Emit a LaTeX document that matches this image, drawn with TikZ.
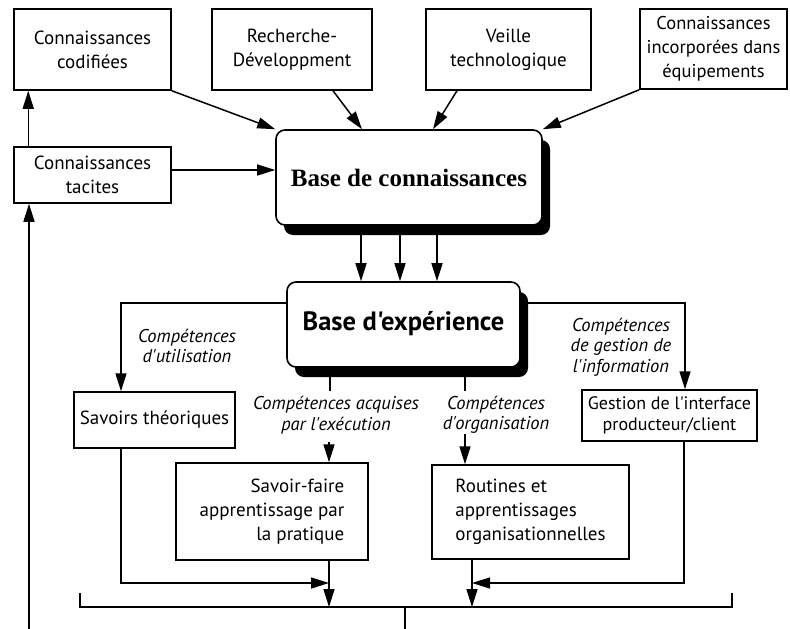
\documentclass[tikz,border=0pt]{standalone}
\usepackage{fontspec}
\setmainfont{PT Sans}[Ligatures=TeXOff]
\newfontfamily\titleserif{Liberation Serif}
\usetikzlibrary{arrows.meta,shadows}
\begin{document}
\begin{tikzpicture}[x=1pt,y=-1pt,
  line width=1.5pt,
  arr/.style={-{Triangle[length=18pt,width=11pt]}},
  box/.style={draw, fill=white, inner sep=0pt, align=center, font=\fontsize{19}{24}\selectfont},
  lab/.style={inner sep=0pt, align=center, font=\itshape\fontsize{18.5}{20.5}\selectfont},
  bigbox/.style={draw, fill=white, rounded corners=9pt, line width=1.6pt, inner sep=0pt,
     drop shadow={shadow xshift=8pt,shadow yshift=-10pt,fill=black,opacity=1}},
]
\useasboundingbox (0,0) rectangle (790,629);

\node[box, minimum width=157pt, minimum height=81pt] (codif) at (92.5,49.5) {Connaissances\\codifiées};
\node[box, minimum width=160pt, minimum height=81pt] (rd) at (292,49.5) {Recherche-\\Développment};
\node[box, minimum width=165pt, minimum height=81pt] (veille) at (508.5,49.5) {Veille\\technologique};
\node[box, minimum width=147pt, minimum height=80pt, font=\fontsize{18.5}{24}\selectfont] (equip) at (713.5,49) {Connaissances\\incorporées dans\\équipements};
\node[box, minimum width=157pt, minimum height=56pt] (tacit) at (92.5,175) {Connaissances\\tacites};
\node[bigbox, minimum width=266pt, minimum height=95pt, font=\titleserif\bfseries\fontsize{25}{28}\selectfont] (bc) at (409,177.5) {Base de connaissances};
\node[bigbox, minimum width=233pt, minimum height=85pt, font=\bfseries\fontsize{26.5}{30}\selectfont] (bx) at (403.5,324.5) {\raisebox{8pt}{Base d'expérience}};
\node[box, minimum width=161pt, minimum height=56pt] (sav) at (154.5,420) {Savoirs théoriques};
\node[box, minimum width=192pt, minimum height=97pt, align=right] (sf) at (272,511.5) {Savoir-faire\\apprentissage par\\la pratique};
\node[box, minimum width=197pt, minimum height=94pt, align=left] (rout) at (530.5,512) {Routines et\\apprentissages\\organisationnelles};
\node[box, minimum width=175pt, minimum height=51pt, font=\fontsize{18}{21}\selectfont] (gest) at (669.5,415.5) {Gestion de l'interface\\producteur/client};

\node[lab] (l1) at (187,346) {Compétences\\d'utilisation};
\node[lab] (l2) at (621,347) {Compétences\\de gestion de\\l'information};
\node[lab] (l3) at (336,415) {Compétences acquises\\par l'exécution};
\node[lab] (l4) at (496,415) {Compétences\\d'organisation};

% top inputs
\draw[arr] (codif.south east) -- (bc.north west);
\draw[arr] ([xshift=41pt]rd.south) -- ([xshift=-47pt]bc.north);
\draw[arr] ([xshift=-51.5pt]veille.south) -- ([xshift=24pt]bc.north);
\draw[arr] (equip.south west) -- (bc.north east);
\coordinate (t1) at ([yshift=5pt]tacit.east);
\draw[arr] (t1) -- (t1 -| bc.west);
\draw[arr] ([xshift=15pt]tacit.north west) -- ([xshift=15pt]codif.south west);
\coordinate (b1) at (29,629);
\draw[arr] (b1) -- (b1 |- tacit.south);

% base de connaissances -> base d'experience
\coordinate (k1) at (361,0);
\coordinate (k2) at (400,0);
\coordinate (k3) at (437,0);
\draw[arr] (bc.south -| k1) -- (bx.north -| k1);
\draw[arr] (bc.south -| k2) -- (bx.north -| k2);
\draw[arr] (bc.south -| k3) -- (bx.north -| k3);

% competences
\draw[arr] ([yshift=21.5pt]bx.west) -| ([xshift=-33.5pt]sav.north);
\draw[arr] ([yshift=21.5pt]bx.east) -| ([xshift=15.5pt]gest.north);
\draw ([xshift=-73.5pt]bx.south) -- ++(0,23);
\draw ([xshift=61.5pt]bx.south) -- ++(0,23);
\draw[arr] ([xshift=57pt,yshift=20pt]sf.north) -- ([xshift=57pt]sf.north);
\draw[arr] ([xshift=-65.5pt,yshift=30pt]rout.north) -- ([xshift=-65.5pt]rout.north);

% bottom
\coordinate (bl) at (80,607);
\coordinate (brr) at (732,607);
\coordinate (m1) at (0,583);
\coordinate (br) at (405,607);
\coordinate (bot) at (405,629);
\draw ([yshift=14pt]bl) -- (bl) -- (brr) -- ([yshift=14pt]brr);
\draw (br) -- (bot);
\coordinate (sfo) at ([xshift=57pt]sf.south);
\draw[arr] (sfo) -- (sfo |- bl);
\draw[arr] ([xshift=-33.5pt]sav.south) |- (sfo |- m1);
\coordinate (ro) at ([xshift=-58.5pt]rout.south);
\draw[arr] (ro) -- (ro |- bl);
\draw[arr] ([xshift=14.5pt]gest.south) |- (ro |- m1);
\end{tikzpicture}
\end{document}
